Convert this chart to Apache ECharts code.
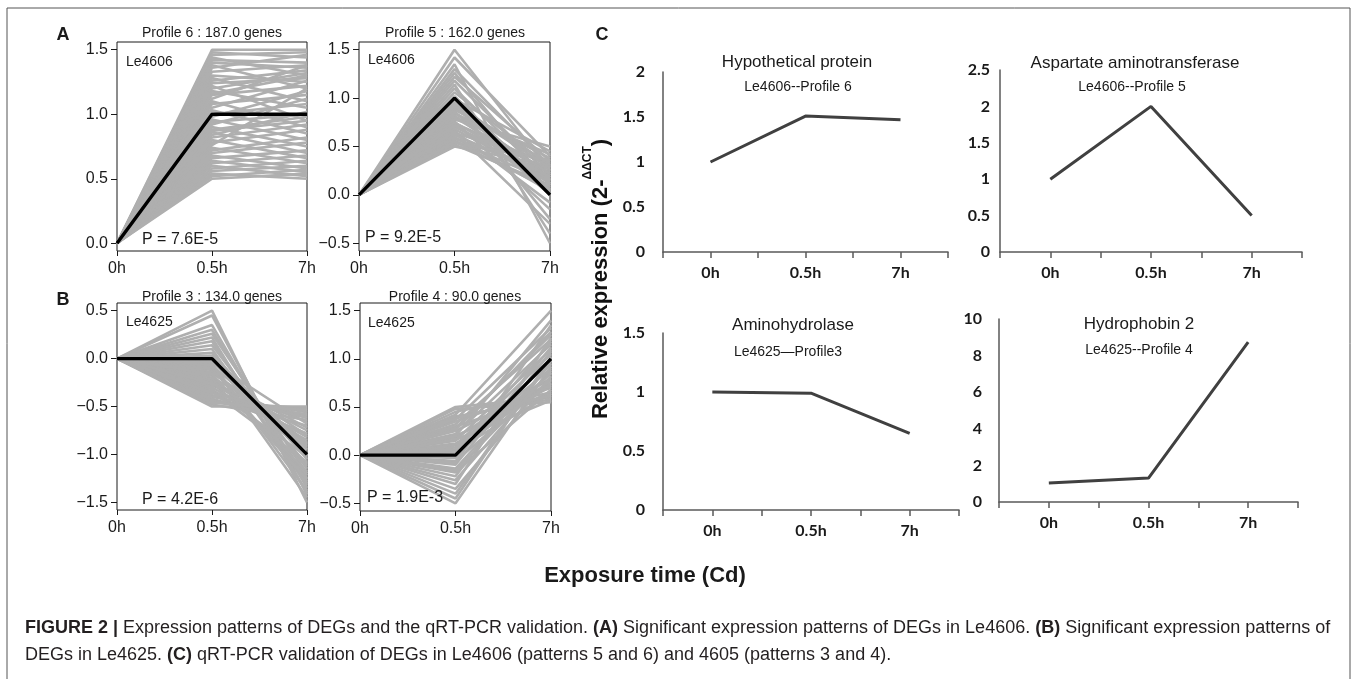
<!DOCTYPE html>
<html><head><meta charset="utf-8">
<script src="https://cdn.jsdelivr.net/npm/echarts@6/dist/echarts.min.js"></script>
<style>html,body{margin:0;padding:0;background:#fff}#c{width:1357px;height:679px}</style>
</head><body><div id="c"></div><script>
// ---------- data ----------
const timeLabels = ['0h', '0.5h', '7h'];

// Panel A (Le4606) gene profiles: value at 0h is 0, values at 0.5h and 7h
const p6Mid = [1.50,1.48,1.46,1.44,1.42,1.40,1.38,1.36,1.33,1.30,1.28,1.26,1.24,1.22,1.20,1.18,1.15,1.12,1.10,1.08,1.05,1.03,1.00,0.98,0.96,0.94,0.92,0.90,0.88,0.86,0.84,0.82,0.80,0.78,0.76,0.74,0.72,0.70,0.68,0.66,0.64,0.62,0.60,0.58,0.56,0.54,0.52,0.50,1.16,0.87];
const p6End = [1.50,1.44,1.48,1.30,1.40,1.36,1.20,1.46,1.38,1.25,1.10,1.34,1.28,0.95,1.32,1.05,1.22,1.38,0.90,1.15,1.26,0.85,1.08,1.18,0.80,1.00,1.12,0.75,0.98,0.70,1.02,0.92,0.66,0.88,1.20,0.62,0.82,0.78,0.58,0.72,0.55,0.68,0.52,0.64,0.60,0.50,0.57,0.54,1.30,0.95];
const p5Mid = [1.50,1.42,1.35,1.30,1.26,1.22,1.18,1.14,1.10,1.06,1.02,0.99,0.96,0.93,0.90,0.88,0.86,0.84,0.82,0.80,0.78,0.76,0.74,0.72,0.70,0.68,0.66,0.64,0.62,0.60,0.58,0.56,0.54,0.52,0.50,0.95,0.85,0.75,0.65,0.55,0.92,0.72];
const p5End = [0.25,0.40,-0.50,0.30,0.10,0.35,0.20,-0.40,0.15,0.28,0.05,0.45,-0.25,0.32,0.18,0.38,0.00,0.42,0.12,0.22,0.50,-0.15,0.30,0.08,0.26,0.16,-0.08,0.34,0.20,0.04,0.24,0.14,0.36,0.10,0.30,0.02,0.22,0.18,-0.30,0.06,0.28,0.12];
// Panel B (Le4625)
const p3Mid = [0.50,0.45,0.35,0.30,0.26,0.22,0.18,0.14,0.10,0.06,0.03,0.00,-0.02,-0.05,-0.08,-0.10,-0.12,-0.15,-0.18,-0.20,-0.22,-0.25,-0.28,-0.30,-0.32,-0.35,-0.38,-0.40,-0.42,-0.45,-0.48,-0.50,-0.06,-0.14,-0.24,-0.34,-0.44,-0.16,-0.26,-0.04,-0.36,-0.46];
const p3End = [-1.50,-1.42,-1.35,-1.30,-1.20,-1.40,-1.25,-1.15,-1.32,-1.05,-1.22,-0.95,-1.10,-1.38,-0.88,-1.28,-1.00,-0.80,-1.18,-0.72,-0.92,-1.12,-0.66,-0.85,-1.02,-0.60,-0.78,-0.56,-0.70,-0.52,-0.64,-0.50,-1.45,-0.90,-0.75,-1.08,-0.58,-1.26,-0.82,-0.68,-0.62,-0.54];
const p4Mid = [0.50,0.48,0.45,0.42,0.40,0.37,0.35,0.32,0.30,0.28,0.25,0.22,0.20,0.18,0.15,0.12,0.10,0.08,0.05,0.03,0.00,-0.03,-0.06,-0.10,-0.14,-0.18,-0.22,-0.26,-0.30,-0.35,-0.40,-0.45,-0.50,0.26,0.16,0.06,-0.08,0.38,0.20,-0.16];
const p4End = [0.60,0.55,0.65,1.50,0.58,1.32,0.70,1.20,0.62,1.25,0.75,1.15,0.66,0.80,1.10,0.72,1.05,0.90,0.64,1.18,0.85,1.00,0.78,1.12,0.95,0.68,1.08,0.88,1.22,0.82,0.98,1.02,0.92,1.28,0.57,0.74,1.35,0.62,1.40,0.86];

// model profiles (black lines)
const meanP6 = [0, 1, 1];
const meanP5 = [0, 1, 0];
const meanP3 = [0, 0, -1];
const meanP4 = [0, 0, 1];

// y tick labels of the profile panels
const ticksP6 = [0, 0.5, 1.0, 1.5];
const ticksP5 = [-0.5, 0, 0.5, 1.0, 1.5];
const ticksP3 = [-1.5, -1.0, -0.5, 0, 0.5];
const ticksP4 = [-0.5, 0, 0.5, 1.0, 1.5];

// Panel C qRT-PCR relative expression
const qHyp   = [1.00, 1.51, 1.47];
const qAsp   = [1.00, 2.00, 0.50];
const qAmino = [1.00, 0.99, 0.65];
const qHydro = [1.04, 1.31, 8.74];

// ---------- layout ----------
const FONT = 'Liberation Sans, Arial, sans-serif';
const profPanels = [
  {box:[117,42,190,209], min:-0.06, max:1.56, ticks:ticksP6, mid:p6Mid, end:p6End, mean:meanP6},
  {box:[359,42,191,209], min:-0.58, max:1.58, ticks:ticksP5, mid:p5Mid, end:p5End, mean:meanP5},
  {box:[117,303,190,207], min:-1.58, max:0.58, ticks:ticksP3, mid:p3Mid, end:p3End, mean:meanP3},
  {box:[360,303,191,208], min:-0.58, max:1.58, ticks:ticksP4, mid:p4Mid, end:p4End, mean:meanP4}
];
const qPanels = [
  {box:[663,72,285,180], max:2, interval:0.5, data:qHyp, margin:18},
  {box:[1000,70,302,182], max:2.5, interval:0.5, data:qAsp, margin:10},
  {box:[663,333,296,177], max:1.5, interval:0.5, data:qAmino, margin:18},
  {box:[999,319,299,183], max:10, interval:2, data:qHydro, margin:17}
];

const grids = [], xAxes = [], yAxes = [], series = [];
const fmtR = v => v.toFixed(1).replace('-', '\u2212');

profPanels.forEach((p) => {
  const gi = grids.length;
  grids.push({left:p.box[0], top:p.box[1], width:p.box[2], height:p.box[3], show:true,
    borderColor:'#1a1a1a', borderWidth:1, backgroundColor:'rgba(0,0,0,0)'});
  xAxes.push({gridIndex:gi, type:'value', min:0, max:2, interval:1, position:'bottom',
    axisLine:{show:false, onZero:false}, splitLine:{show:false},
    axisTick:{show:true, length:5, lineStyle:{color:'#1a1a1a'}},
    axisLabel:{margin:10, fontSize:16, color:'#1a1a1a', fontFamily:FONT, formatter:v => timeLabels[v]}});
  yAxes.push({gridIndex:gi, type:'value', min:p.min, max:p.max, position:'left',
    axisLine:{show:false, onZero:false}, splitLine:{show:false},
    axisTick:{show:true, length:6, customValues:p.ticks, lineStyle:{color:'#1a1a1a'}},
    axisLabel:{customValues:p.ticks, margin:9, fontSize:16, color:'#1a1a1a', fontFamily:FONT, formatter:fmtR}});
  p.mid.forEach((m, k) => {
    series.push({type:'line', xAxisIndex:gi, yAxisIndex:gi, silent:true, symbol:'none', z:2,
      data:[[0,0],[1,m],[2,p.end[k]]], lineStyle:{color:'#afafaf', width:2.6}});
  });
  series.push({type:'line', xAxisIndex:gi, yAxisIndex:gi, silent:true, symbol:'none', z:3,
    data:p.mean.map((v,j) => [j, v]), lineStyle:{color:'#000', width:3.4}});
});

qPanels.forEach((p) => {
  const gi = grids.length;
  grids.push({left:p.box[0], top:p.box[1], width:p.box[2], height:p.box[3], show:false});
  xAxes.push({gridIndex:gi, type:'value', min:-0.5, max:2.5, interval:0.5, position:'bottom',
    axisLine:{show:true, onZero:false, lineStyle:{color:'#595959', width:1.5}}, splitLine:{show:false},
    axisTick:{show:true, length:6, lineStyle:{color:'#595959', width:1.5}},
    axisLabel:{margin:13, fontSize:16, fontWeight:'bold', color:'#1a1a1a', fontFamily:'Lato, sans-serif',
      formatter:v => (Math.abs(v - Math.round(v)) < 1e-6 && v >= 0 && v <= 2) ? timeLabels[Math.round(v)] : ''}});
  yAxes.push({gridIndex:gi, type:'value', min:0, max:p.max, interval:p.interval, position:'left',
    axisLine:{show:true, onZero:false, lineStyle:{color:'#595959', width:1.5}}, splitLine:{show:false},
    axisTick:{show:false},
    axisLabel:{margin:p.margin, fontSize:16, fontWeight:'bold', color:'#1a1a1a', fontFamily:'Lato, sans-serif'}});
  series.push({type:'line', xAxisIndex:gi, yAxisIndex:gi, silent:true, symbol:'none', z:3,
    data:p.data.map((v,j) => [j, v]), lineStyle:{color:'#404040', width:3}});
});

function txt(x, y, text, size, opt) {
  opt = opt || {};
  return {type:'text', x:x, y:y, rotation:opt.rot || 0, z:10, silent:true,
    style:{text:text, fontSize:size, fontWeight:opt.bold ? 'bold' : 'normal', fontFamily:opt.family || FONT,
      fill:opt.color || '#1a1a1a', align:opt.align || 'center', textAlign:opt.align || 'center',
      verticalAlign:'middle', textVerticalAlign:'middle', rich:opt.rich}};
}
const capRich = {b:{fontWeight:'bold', fontSize:18, fontFamily:FONT, fill:'#231f20'}};

const graphics = [
  {type:'line', shape:{x1:7, y1:8, x2:1350, y2:8}, style:{stroke:'#555', lineWidth:1}, silent:true},
  {type:'line', shape:{x1:7, y1:8, x2:7, y2:679}, style:{stroke:'#555', lineWidth:1}, silent:true},
  {type:'line', shape:{x1:1350, y1:8, x2:1350, y2:679}, style:{stroke:'#555', lineWidth:1}, silent:true},
  txt(63, 35, 'A', 18, {bold:true}),
  txt(63, 300, 'B', 18, {bold:true}),
  txt(602, 35, 'C', 18, {bold:true}),
  txt(212, 33, 'Profile 6 : 187.0 genes', 14),
  txt(455, 33, 'Profile 5 : 162.0 genes', 14),
  txt(212, 297, 'Profile 3 : 134.0 genes', 14),
  txt(455, 297, 'Profile 4 : 90.0 genes', 14),
  txt(126, 62, 'Le4606', 14, {align:'left'}),
  txt(368, 60, 'Le4606', 14, {align:'left'}),
  txt(126, 322, 'Le4625', 14, {align:'left'}),
  txt(368, 323, 'Le4625', 14, {align:'left'}),
  txt(142, 240, 'P = 7.6E-5', 16, {align:'left'}),
  txt(365, 238, 'P = 9.2E-5', 16, {align:'left'}),
  txt(142, 500, 'P = 4.2E-6', 16, {align:'left'}),
  txt(367, 498, 'P = 1.9E-3', 16, {align:'left'}),
  txt(797, 62, 'Hypothetical protein', 17),
  txt(798, 87, 'Le4606--Profile 6', 14),
  txt(1135, 63, 'Aspartate aminotransferase', 17),
  txt(1132, 87, 'Le4606--Profile 5', 14),
  txt(793, 325, 'Aminohydrolase', 17),
  txt(788, 352, 'Le4625\u2014Profile3', 14),
  txt(1139, 324, 'Hydrophobin 2', 17),
  txt(1139, 350, 'Le4625--Profile 4', 14),
  txt(597, 279, '{a|Relative expression (2-}{s|\u0394\u0394CT}{a|)}', 22, {rot:Math.PI/2,
    rich:{a:{fontSize:22, fontWeight:'bold', fontFamily:FONT, fill:'#111', lineHeight:30, verticalAlign:'bottom'},
          s:{fontSize:12, fontWeight:'bold', fontFamily:FONT, fill:'#111', lineHeight:13, verticalAlign:'top'}}}),
  txt(645, 576, 'Exposure time (Cd)', 22, {bold:true}),
  txt(25, 628, '{b|FIGURE 2 |} Expression patterns of DEGs and the qRT-PCR validation. {b|(A)} Significant expression patterns of DEGs in Le4606. {b|(B)} Significant expression patterns of', 18,
    {align:'left', color:'#231f20', rich:capRich}),
  txt(25, 655, 'DEGs in Le4625. {b|(C)} qRT-PCR validation of DEGs in Le4606 (patterns 5 and 6) and 4605 (patterns 3 and 4).', 18,
    {align:'left', color:'#231f20', rich:capRich})
];

const chart = echarts.init(document.getElementById('c'), null, {renderer:'canvas'});
chart.setOption({
  animation:false,
  backgroundColor:'#fff',
  grid:grids, xAxis:xAxes, yAxis:yAxes, series:series,
  graphic:graphics
});
</script></body></html>
